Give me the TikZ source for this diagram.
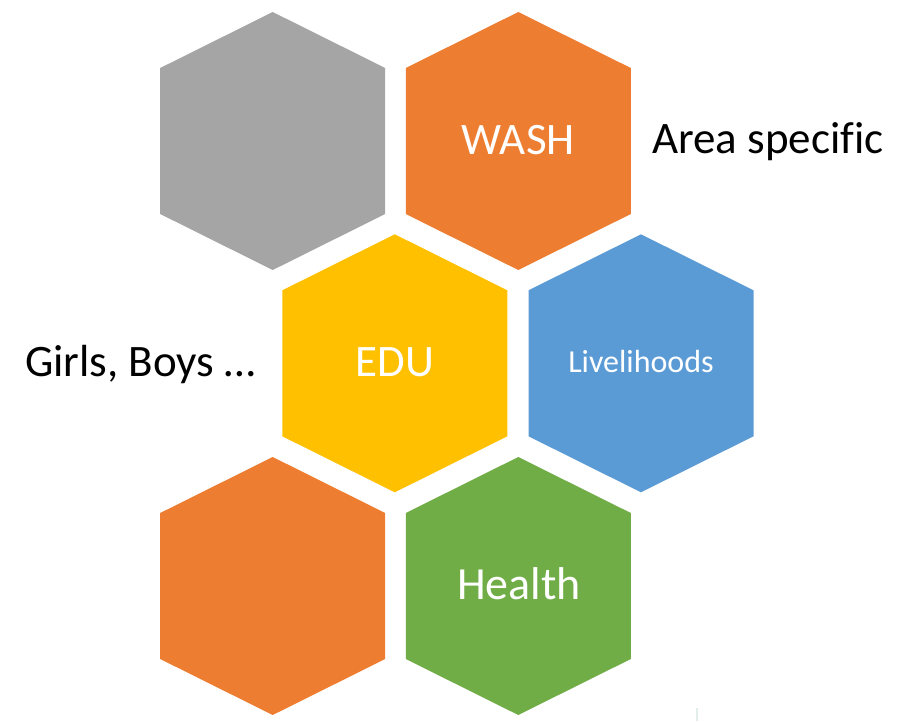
\documentclass[tikz,border=0pt]{standalone}
\usepackage{fontspec}
\setmainfont[Ligatures=NoCommon]{Carlito}
\definecolor{hgray}{HTML}{A5A5A5}
\definecolor{horange}{HTML}{ED7D31}
\definecolor{hyellow}{HTML}{FFC000}
\definecolor{hblue}{HTML}{5B9BD5}
\definecolor{hgreen}{HTML}{70AD47}
\definecolor{faint}{HTML}{E2EEEB}
\newcommand\hexcell[3]{%
  \fill[#1] (#2,#3) ++(0,-129) -- ++(112.5,56) -- ++(0,146) -- ++(-112.5,56)
    -- ++(-112.5,-56) -- ++(0,-146) -- cycle;}
\begin{document}
\begin{tikzpicture}[x=1pt,y=-1pt,
  inlabel/.style={text=white,anchor=base,inner sep=0pt},
  outlabel/.style={text=black,anchor=base west,inner sep=0pt,font=\fontsize{45}{50}\selectfont}]
\useasboundingbox (0,0) rectangle (911,721);
\hexcell{hgray}{272.7}{141}
\hexcell{horange}{518.3}{141}
\hexcell{hyellow}{394.8}{363.3}
\hexcell{hblue}{641}{363.3}
\hexcell{horange}{272.7}{586}
\hexcell{hgreen}{518.3}{586}
\node[inlabel,font=\fontsize{45}{50}\selectfont] (wash) at (518.3,154) {WASH};
\node[inlabel,font=\fontsize{45}{50}\selectfont] (edu) at (395,376) {EDU};
\node[inlabel,font=\fontsize{32}{36}\selectfont] (liv) at (641,372.7) {Livelihoods};
\node[inlabel,font=\fontsize{46}{50}\selectfont] (health) at (519,599) {Health};
\node[outlabel] (area) at (652,153.3) {Area specific};
\node[outlabel] (girls) at (25,376.7) {Girls, Boys …};
\fill[faint] (696,708) rectangle (698,721);
\end{tikzpicture}
\end{document}
